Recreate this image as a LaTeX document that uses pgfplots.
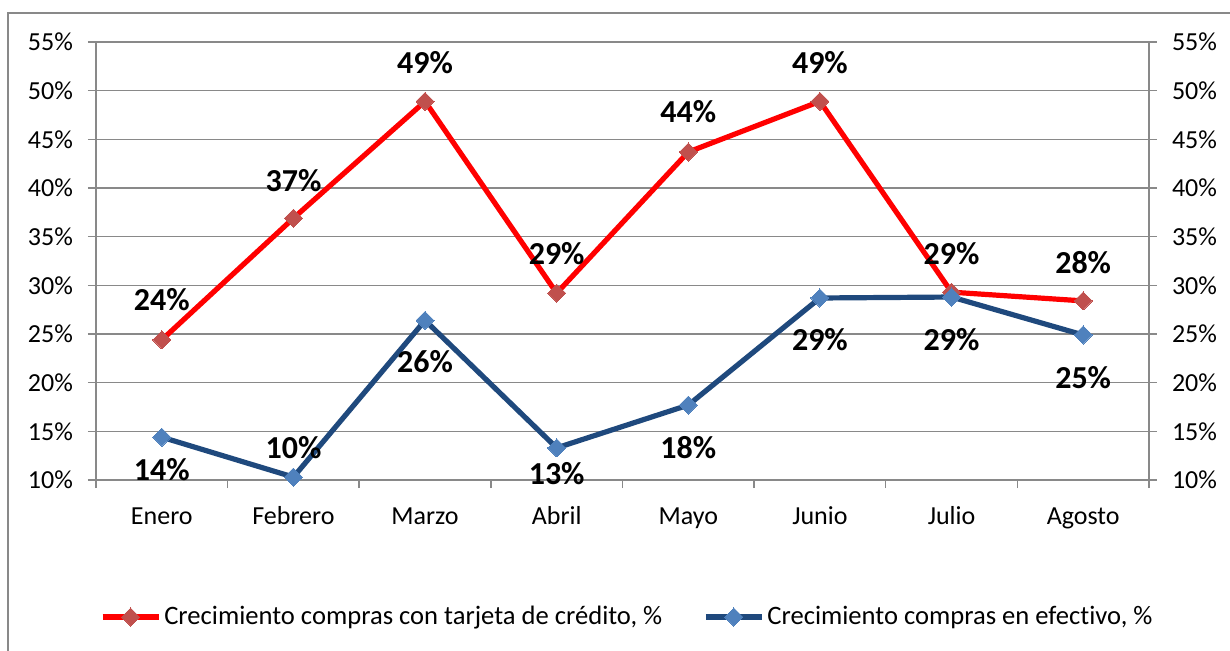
\documentclass[border=0pt]{standalone}
\usepackage{pgfplots}
\usepackage{pgfplotstable}
\pgfplotsset{compat=1.18}
\usepackage{fontspec}
\setmainfont[Ligatures={NoCommon}]{Carlito}
\definecolor{redline}{HTML}{FF0000}
\definecolor{redmark}{HTML}{C0504D}
\definecolor{blueline}{HTML}{1F497D}
\definecolor{bluemark}{HTML}{4F81BD}
\definecolor{gridgray}{HTML}{898989}
\pgfplotsset{/pgf/number format/assume math mode=true}

\pgfplotstableread{
x y off
0 24.4 20
1 36.9 19
2 48.9 19.5
3 29.2 20
4 43.7 20
5 48.9 19.5
6 29.3 19.5
7 28.4 19
}\credit

\pgfplotstableread{
x y off
0 14.4 -16
1 10.3 14.5
2 26.4 -20.5
3 13.3 -13
4 17.7 -21.5
5 28.7 -21
6 28.8 -21.5
7 24.9 -21.5
}\cash

\begin{document}
\begin{tikzpicture}
\draw[gridgray, line width=0.75pt] (4pt,-20pt) -- (4pt,318.5pt) -- (640pt,318.5pt);
\begin{axis}[
  at={(48pt,85pt)}, anchor=south west,
  scale only axis, width=526.5pt, height=219pt,
  xmin=-0.5, xmax=7.5, ymin=10, ymax=55,
  clip=false,
  ytick={10,15,...,55},
  yticklabel={\pgfmathprintnumber{\tick}\%},
  ymajorgrids, grid style={gridgray, line width=0.75pt},
  axis line style={gridgray, line width=0.75pt},
  tick style={gridgray, line width=0.75pt},
  tick align=outside, major tick length=4pt, minor tick length=4pt,
  ytick pos=left, xtick pos=left,
  xtick={0,...,7},
  xticklabels={Enero,Febrero,Marzo,Abril,Mayo,Junio,Julio,Agosto},
  major x tick style={draw=none},
  minor xtick={-0.5,0.5,...,7.5},
  ticklabel style={font=\fontsize{13}{15}\selectfont, text=black},
  xticklabel style={text height=9.5pt, text depth=3pt, yshift=-5pt},
  yticklabel style={xshift=-4pt},
  legend style={draw=none, at={(0.505,-0.3128)}, anchor=center,
    legend columns=2, font=\fontsize{13.3}{15}\selectfont,
    /tikz/every even column/.append style={column sep=19pt},
    nodes={inner xsep=1.5pt}},
  legend cell align=left,
  legend image code/.code={\draw[mark repeat=2,mark phase=2,#1] plot coordinates {(0pt,0pt)(14pt,0pt)(28pt,0pt)};},
  point meta=y,
  nodes near coords={\pgfmathprintnumber[fixed,precision=0]{\pgfplotspointmeta}\%},
  visualization depends on={\thisrow{off} \as \lbloff},
  nodes near coords style={font=\fontsize{16}{18}\selectfont\bfseries, text=black, anchor=center, yshift=\lbloff*1pt},
]
\addplot[redline, line width=2.6pt, mark=square*, mark size=3.2pt,
  mark options={fill=redmark, draw=redmark, line width=0pt, rotate=45}]
  table[x=x, y=y] {\credit};
\addlegendentry{Crecimiento compras con tarjeta de crédito, \%}
\addplot[blueline, line width=2.6pt, mark=square*, mark size=3.2pt,
  mark options={fill=bluemark, draw=bluemark, line width=0pt, rotate=45}]
  table[x=x, y=y] {\cash};
\addlegendentry{Crecimiento compras en efect\kern0pt ivo, \%}
\end{axis}
\begin{axis}[
  at={(48pt,85pt)}, anchor=south west,
  scale only axis, width=526.5pt, height=219pt,
  xmin=-0.5, xmax=7.5, ymin=10, ymax=55,
  axis y line*=right, axis x line=none,
  ytick={10,15,...,55},
  yticklabel={\pgfmathprintnumber{\tick}\%},
  axis line style={gridgray, line width=0.75pt},
  tick style={gridgray, line width=0.75pt},
  tick align=outside, major tick length=4pt,
  ticklabel style={font=\fontsize{13}{15}\selectfont, text=black},
  yticklabel style={xshift=4pt},
]
\addplot[draw=none] coordinates {(0,10)};
\end{axis}
\pgfresetboundingbox
\useasboundingbox (0,0) rectangle (615pt,325pt);
\end{tikzpicture}
\end{document}
